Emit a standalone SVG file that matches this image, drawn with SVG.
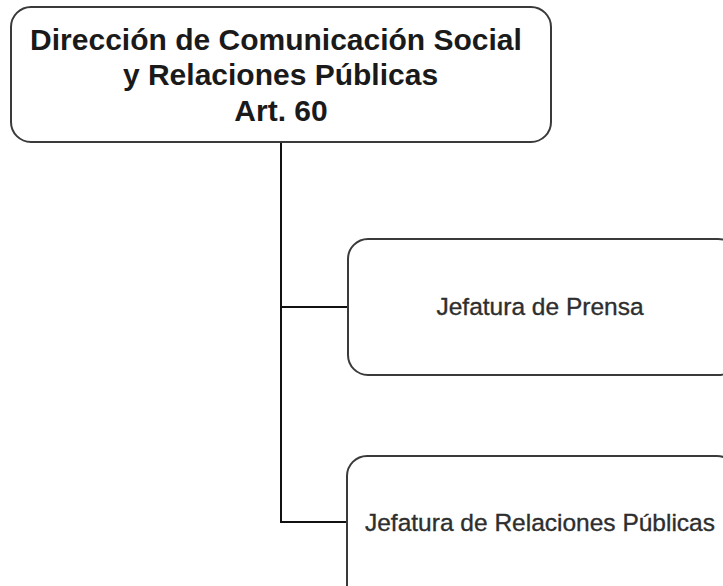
<svg xmlns="http://www.w3.org/2000/svg" width="723" height="586" viewBox="0 0 723 586">
<style>
.box{fill:#ffffff;stroke:#3a3a3a;stroke-width:2}
.title{font-family:"Liberation Sans",Arial,sans-serif;font-weight:bold;font-size:30px;fill:#1a1a1a;text-anchor:middle}
.lbl{font-family:"Liberation Sans",Arial,sans-serif;font-size:24.5px;fill:#2e2e2e;stroke:#2e2e2e;stroke-width:0.35;text-anchor:middle}
.conn{fill:none;stroke:#111111;stroke-width:2}
</style>
<rect width="723" height="586" fill="#ffffff"/>
<g id="connectors">
<path class="conn" d="M281 142 V522 H347"/>
<path class="conn" d="M281 307 H348"/>
</g>
<g id="node-direccion">
<rect class="box" x="11" y="7" width="540" height="135" rx="20" ry="20"/>
<text class="title" x="276" y="50">Dirección de Comunicación Social</text>
<text class="title" x="280.5" y="85">y Relaciones Públicas</text>
<text class="title" x="281" y="121">Art. 60</text>
</g>
<g id="node-prensa">
<rect class="box" x="348" y="239" width="390" height="136" rx="20" ry="20"/>
<text class="lbl" x="540" y="315">Jefatura de Prensa</text>
</g>
<g id="node-relaciones">
<rect class="box" x="347" y="456" width="390" height="150" rx="20" ry="20"/>
<text class="lbl" x="540" y="531">Jefatura de Relaciones Públicas</text>
</g>
</svg>
